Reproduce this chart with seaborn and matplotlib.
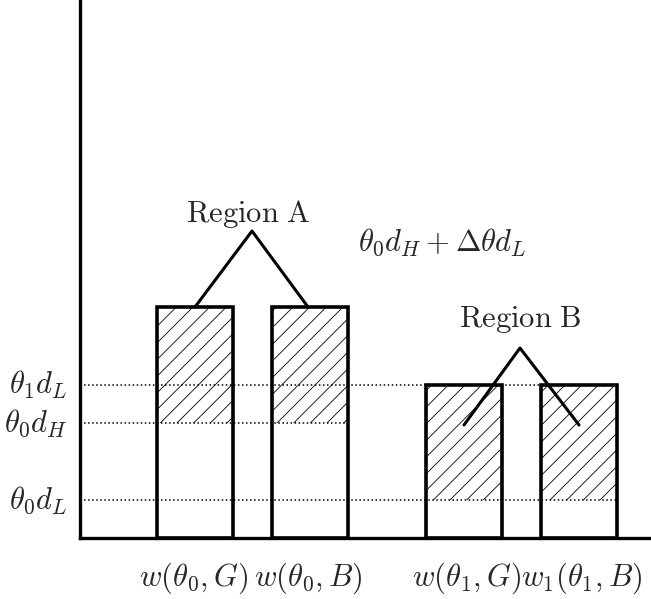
import numpy as np
import matplotlib
matplotlib.use("Agg")
import matplotlib.pyplot as plt
import seaborn as sns

# schematic values, axis units of roughly 100 px
bar_pos = [1.15, 2.30, 3.84, 4.99]
bar_top = [2.31, 2.31, 1.53, 1.53]
hatch_bottom = [1.15, 1.15, 0.38, 0.38]
bar_labels = [r"$w(\theta_0,G)$", r"$w(\theta_0,B)$",
              r"$w(\theta_1,G)$", r"$w_1(\theta_1,B)$"]
label_x = [1.135, 2.28, 3.87, 5.02]

level_names = [r"$\theta_1 d_L$", r"$\theta_0 d_H$", r"$\theta_0 d_L$"]
level_vals = [1.53, 1.15, 0.38]
level_ends = [5.38, 2.68, 5.38]

bar_width = 0.76
fs = 22

sns.set_style("white")
plt.rcParams["mathtext.fontset"] = "cm"
plt.rcParams["hatch.linewidth"] = 0.6

fig = plt.figure(figsize=(6.51, 5.99), dpi=100)
ax = fig.add_axes([80 / 651, 61 / 599, 1 - 80 / 651, 1 - 61 / 599])

# hatched parts of each bar
ax.bar(bar_pos, np.subtract(bar_top, hatch_bottom), bottom=hatch_bottom,
       width=bar_width, fill=False, hatch="//", linewidth=0, edgecolor="black")

# bar outlines
step = min(np.diff(sorted(bar_pos)))
sns.barplot(x=bar_pos, y=bar_top, native_scale=True, width=bar_width / step,
            fill=False, color="black", linewidth=2.6, errorbar=None, ax=ax)

# dotted reference levels
for name, val, end in zip(level_names, level_vals, level_ends):
    ax.plot([0, end], [val, val], linestyle=":", color="black", linewidth=1.1)
    ax.text(-0.12, val, name, ha="right", va="center", fontsize=fs,
            clip_on=False)

# region markers
ax.plot([1.15, 1.72, 2.28], [2.31, 3.07, 2.31], color="black", linewidth=2.2)
ax.text(1.68, 3.24, r"$\mathrm{Region\ A}$", ha="center", va="center", fontsize=fs)
ax.plot([3.84, 4.40, 4.99], [1.13, 1.90, 1.13], color="black", linewidth=2.2)
ax.text(4.40, 2.18, r"$\mathrm{Region\ B}$", ha="center", va="center", fontsize=fs)
ax.text(2.78, 2.96, r"$\theta_0 d_H + \Delta\theta d_L$", ha="left", va="center",
        fontsize=fs)

for x, lab in zip(label_x, bar_labels):
    ax.text(x, -0.40, lab, ha="center", va="center", fontsize=fs, clip_on=False)

ax.set_xlim(0, 5.71)
ax.set_ylim(0, 5.38)
ax.set_xticks([])
ax.set_yticks([])
ax.set_xlabel("")
ax.set_ylabel("")
sns.despine(ax=ax)
for side in ["left", "bottom"]:
    ax.spines[side].set_linewidth(2.4)
    ax.spines[side].set_color("black")

fig.savefig("out.png", dpi=100)
